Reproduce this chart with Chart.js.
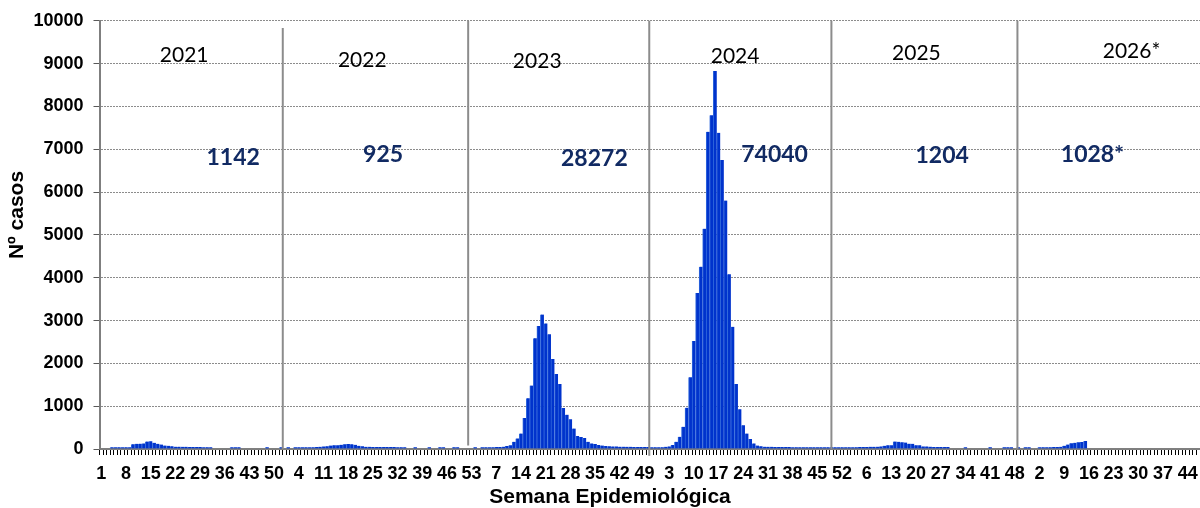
<!DOCTYPE html>
<html><head><meta charset="utf-8">
<script src="https://cdn.jsdelivr.net/npm/chart.js@4.4.1/dist/chart.umd.min.js"></script>
<style>html,body{margin:0;padding:0;background:#fff;}canvas{display:block;}</style>
</head><body>
<canvas id="c" width="1200" height="508"></canvas>
<script>
// ---------- DATA ----------
const years = ['2021', '2022', '2023', '2024', '2025', '2026*'];
const weeksPerYear = [53, 53, 53, 53, 53, 47];
const yearTotals = ['1142', '925', '28272', '74040', '1204', '1028*'];

const cases2021 = [0,0,0,40,40,40,40,40,40, 110,120,125,130, 175,180,145,120,105,80,75,65,
  55,55,50,50,45,45,45,45,40, 40,40, 0,0,0,0,0, 40,40,40, 0,0,0,0,0,0,0, 40, 0,0,0, 40, 0];
const cases2022 = [40,0,40,40,40,40,40,40,45,50, 60,65,80,85,90,100,110,115,110,100,
  75,65,50,50,45,45,45,45,45,45, 45,40,40,40,0,0,40,0,0,0, 40,0,0,40,40,0,0,40,40,0, 0,0,0];
const cases2023 = [40,0,40,40,40,40,45,45,55,70, 90,170,247,363,725,1188,1481,2585,2870,3140,
  2932,2677,2099,1752,1520,957,802,694,478,301, 278,255,170,131,116,93,80,70,65,60,
  60,55,55,50,50,45,45,45,45,45, 40,40,40];
const cases2024 = [40,50,60,93,170,285,517,965,1674,2523, 3642,4259,5146,7407,7793,8827,7384,6752,5803,4082,
  2855,1520,926,556,363,231,131,80,65,55, 50,50,45,45,45,45,45,40,40,40,
  40,40,40,40,40,40,40,40,40,40, 40,40,40];
const cases2025 = [40,40,40,45,45,45,50,50,55,60, 75,85,90,175,170,155,150,125,120,90,
  85,60,60,55,45,45,45,45,45,0, 0,0,0,40,0,0,0,0,0,0, 40,0,0,0,40,40,40,0,40,0, 40,40,0];
const cases2026 = [0,40,40,40,40,45,45,50,75,105,135,145,155,165,185];

const yMin = 0, yMax = 10000, yStep = 1000;
const xLabelEvery = 7;

// annotation placement (category-index units / value units)
const yearLabelX = [23.5, 74.0, 123.6, 179.7, 231.1, 292.1];
const yearLabelY = [9205, 9089, 9066, 9182, 9251, 9298];
const totalX = [37.4, 79.9, 139.8, 190.9, 238.4, 281.0];
const totalY = [6817, 6887, 6771, 6887, 6864, 6887];
const dividerX = [51.46, 104.02, 155.36, 207.0, 259.74];
const dividerTop = [9830, 10000, 10000, 10000, 10000];
const dividerBottom = [0, 80, -160, 0, 0];

// ---------- BUILD ----------
const seriesByYear = [cases2021, cases2022, cases2023, cases2024, cases2025, cases2026];
const labels = [];
const values = [];
weeksPerYear.forEach((n, yi) => {
  for (let w = 1; w <= n; w++) {
    labels.push(String(w));
    const v = seriesByYear[yi][w - 1];
    values.push(v === undefined ? null : v);
  }
});

const tickFont = { family: 'Liberation Sans, Arial, sans-serif', weight: 'bold', size: 18 };

const overlay = {
  id: 'overlay',
  afterDatasetsDraw(chart) {
    const { ctx, scales: { x, y } } = chart;
    ctx.save();
    // year dividers
    ctx.strokeStyle = '#8c8c8c';
    ctx.lineWidth = 2;
    dividerX.forEach((d, i) => {
      const px = x.getPixelForValue(d);
      ctx.beginPath();
      ctx.moveTo(px, y.getPixelForValue(dividerTop[i]));
      ctx.lineTo(px, y.getPixelForValue(dividerBottom[i]));
      ctx.stroke();
    });
    // year labels
    ctx.textAlign = 'center';
    ctx.textBaseline = 'middle';
    ctx.fillStyle = '#000';
    ctx.font = '21px Lato, "Open Sans", sans-serif';
    years.forEach((t, i) => ctx.fillText(t, x.getPixelForValue(yearLabelX[i]), y.getPixelForValue(yearLabelY[i])));
    // totals
    ctx.fillStyle = '#112a63';
    ctx.font = 'bold 23px Lato, "Open Sans", sans-serif';
    yearTotals.forEach((t, i) => ctx.fillText(t, x.getPixelForValue(totalX[i]), y.getPixelForValue(totalY[i])));
    // axis titles
    ctx.fillStyle = '#000';
    ctx.font = 'bold 21px "Liberation Sans", Arial, sans-serif';
    ctx.fillText('Semana Epidemiológica', 610, 497);
    ctx.translate(17, 215);
    ctx.rotate(-Math.PI / 2);
    ctx.font = 'bold 21px "Liberation Sans", Arial, sans-serif';
    ctx.fillText('Nº casos', 0, 0);
    ctx.restore();
  }
};

new Chart(document.getElementById('c'), {
  type: 'bar',
  data: {
    labels: labels,
    datasets: [{
      data: values,
      backgroundColor: '#0033cc',
      borderColor: '#2f68dc',
      borderWidth: { left: 1, top: 0, right: 0, bottom: 0 },
      borderSkipped: false,
      barPercentage: 1,
      categoryPercentage: 1
    }]
  },
  options: {
    responsive: false,
    animation: false,
    devicePixelRatio: 1,
    layout: { padding: { top: 17.7, right: 0, left: 0, bottom: 0 } },
    plugins: { legend: { display: false }, tooltip: { enabled: false } },
    scales: {
      x: {
        offset: true,
        grid: { display: true, drawOnChartArea: false, drawTicks: true, tickLength: 6, tickColor: '#000', lineWidth: 1, offset: true },
        border: { display: true, color: '#7f7f7f', width: 2 },
        ticks: {
          autoSkip: false, maxRotation: 0, minRotation: 0, padding: 8,
          color: '#000', font: tickFont,
          callback: function (val, i) { return i % xLabelEvery === 0 ? this.getLabelForValue(val) : ''; }
        },
        afterFit: s => { s.height = 59; s.paddingLeft = 0; s.paddingRight = 0; }
      },
      y: {
        min: yMin, max: yMax,
        ticks: { stepSize: yStep, color: '#000', font: tickFont, padding: 10, callback: v => String(v) },
        grid: { color: '#8c8c8c', lineWidth: 1, tickColor: '#595959', tickLength: 6 },
        border: { display: true, color: '#7f7f7f', width: 2, dash: [2, 1] },
        afterFit: s => { s.width = 99.5; }
      }
    }
  },
  plugins: [overlay]
});
</script>
</body></html>
